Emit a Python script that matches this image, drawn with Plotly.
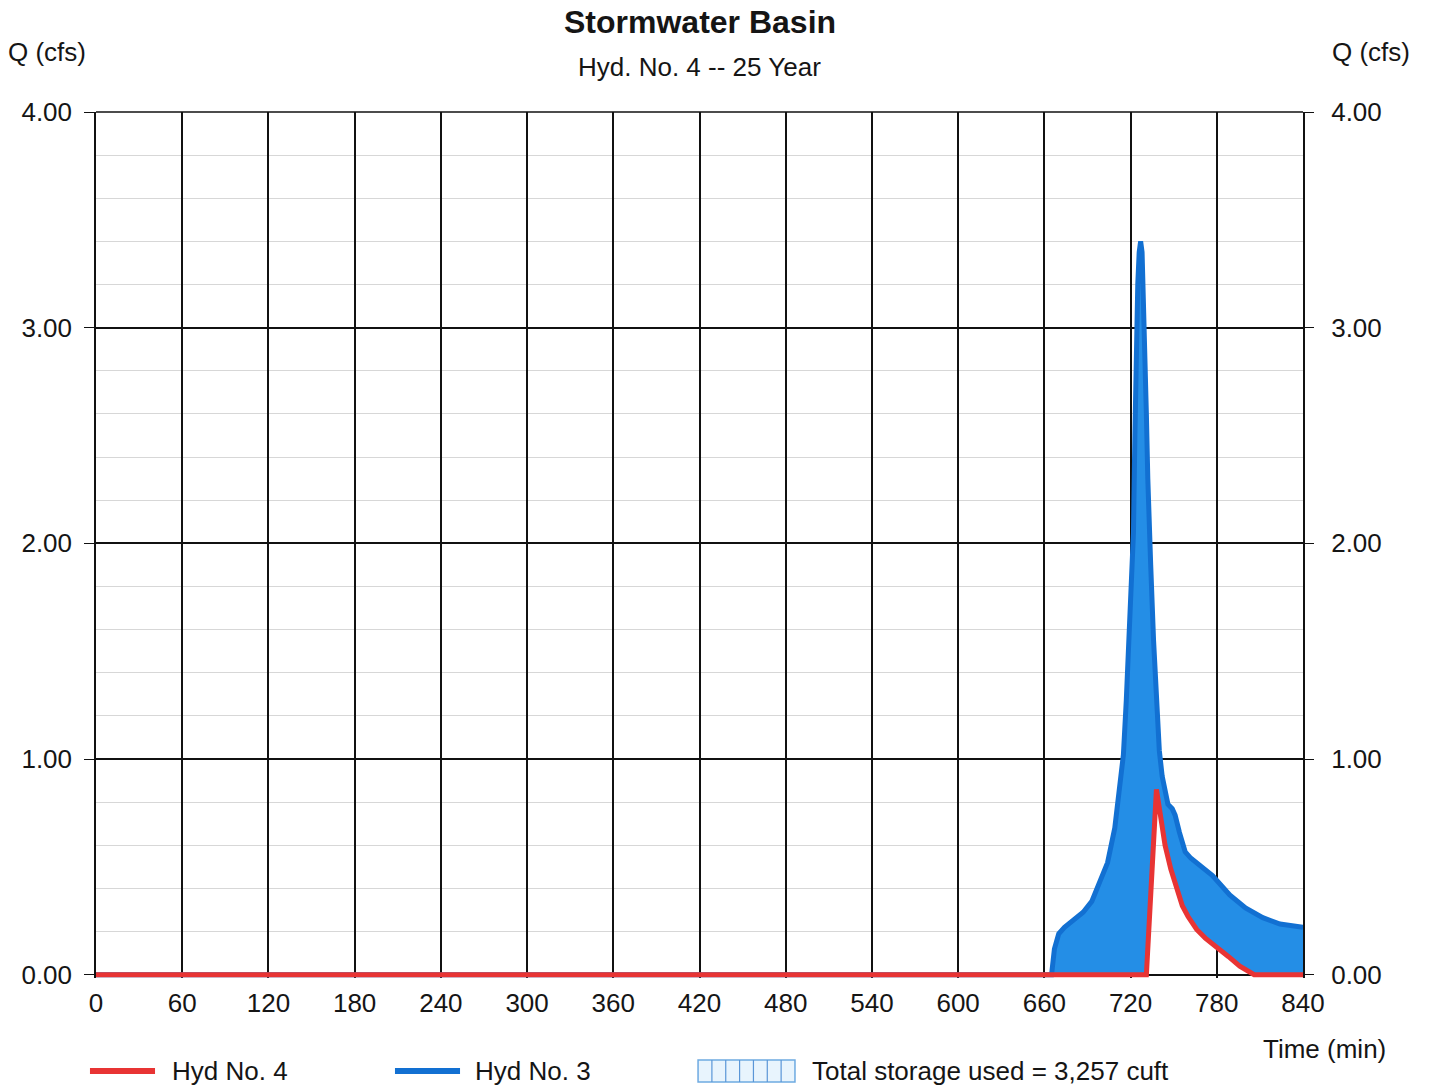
import plotly.graph_objects as go

# Hyd No. 3 (inflow) - time (min) and flow (cfs)
t_in = [0, 665, 667, 670, 674, 687, 693, 700, 704, 709, 715, 717, 719, 720, 722, 723, 724, 725, 726, 727,
        728, 729, 730, 731, 732, 733, 734, 736, 738, 740, 742, 746, 749, 751, 754, 758, 762, 770, 777,
        789, 800, 812, 824, 840]
q_in = [0, 0, 0.12, 0.19, 0.22, 0.29, 0.34, 0.46, 0.52, 0.68, 1.02, 1.27, 1.55, 1.7, 2.05, 2.5, 2.95, 3.2,
        3.35, 3.40, 3.35, 3.15, 2.85, 2.6, 2.3, 2.05, 1.9, 1.55, 1.27, 1.04, 0.92, 0.79, 0.77, 0.74, 0.66,
        0.57, 0.54, 0.5, 0.46, 0.37, 0.31, 0.265, 0.235, 0.22]

# Hyd No. 4 (outflow)
t_out = [0, 731, 738, 740, 744, 748, 752, 756, 760, 766, 772, 780, 788, 796, 806, 840]
q_out = [0, 0, 0.86, 0.78, 0.60, 0.49, 0.41, 0.32, 0.27, 0.21, 0.17, 0.13, 0.085, 0.04, 0.0, 0.0]

x_ticks = list(range(0, 841, 60))
y_ticks = [0, 1, 2, 3, 4]

title = "Stormwater Basin"
subtitle = "Hyd. No. 4 -- 25 Year"
storage_label = "Total storage used = 3,257 cuft"

RED = "rgb(232,52,52)"
BLUE_LINE = "rgb(18,112,210)"
BLUE_FILL = "rgb(36,142,230)"
FONT = "Liberation Sans, Arial, sans-serif"
TXT = "#151515"
FS = 26
YR = [-0.015, 4]

fig = go.Figure()
# base for fill
fig.add_trace(go.Scatter(x=t_out, y=q_out, mode="lines", line=dict(color=RED, width=0),
                         showlegend=False, hoverinfo="skip"))
fig.add_trace(go.Scatter(x=t_in, y=q_in, mode="lines", fill="tonexty", fillcolor=BLUE_FILL,
                         line=dict(color=BLUE_LINE, width=5), name="Hyd No. 3", showlegend=False))
fig.add_trace(go.Scatter(x=t_out, y=q_out, mode="lines", line=dict(color=RED, width=5),
                         name="Hyd No. 4", showlegend=False, yaxis="y2"))

fig.update_layout(
    width=1429, height=1087,
    margin=dict(l=96, r=126, t=112, b=109),
    paper_bgcolor="white", plot_bgcolor="white",
    font=dict(family=FONT, size=FS, color=TXT),
    xaxis=dict(range=[0, 840], tickvals=x_ticks, ticktext=[str(v) for v in x_ticks],
               showgrid=True, gridcolor="#111", gridwidth=1.5, zeroline=False,
               showline=False, ticks="", ticklabelstandoff=7,
               tickfont=dict(size=FS, family=FONT, color=TXT)),
    yaxis=dict(range=YR, tickvals=y_ticks, tickformat=".2f",
               showgrid=True, gridcolor="#111", gridwidth=1.5, zeroline=False,
               showline=True, mirror=True, linecolor="#111", linewidth=1.5,
               ticks="outside", ticklen=10, tickcolor="#111",
               ticklabelstandoff=7,
               minor=dict(dtick=0.2, tick0=0, showgrid=True, gridcolor="rgb(215,215,215)", gridwidth=1),
               tickfont=dict(size=FS, family=FONT, color=TXT)),
    yaxis2=dict(range=YR, tickvals=y_ticks, tickformat=".2f", overlaying="y", side="right",
                showgrid=False, zeroline=False, showline=False, ticks="outside", ticklen=10,
                tickcolor="#111", ticklabelstandoff=12,
                tickfont=dict(size=FS, family=FONT, color=TXT)),
    showlegend=False,
)

# top border of plot area
fig.add_shape(type="line", xref="paper", yref="paper", x0=0, x1=1, y0=1, y1=1,
              line=dict(color="#111", width=1.5))

def py(p):
    # pixel row -> paper y (plot area 112..978)
    return (978 - p) / 866.0

ann = [
    dict(text="<b>" + title + "</b>", x=0.5, y=py(22), size=32),
    dict(text=subtitle, x=0.5, y=py(67), size=FS),
    dict(text="Q (cfs)", x=-0.0406, y=py(52), size=FS),
    dict(text="Q (cfs)", x=1.0563, y=py(52), size=FS),
    dict(text="Time (min)", x=1.0182, y=py(1049), size=FS),
]
for a in ann:
    fig.add_annotation(text=a["text"], x=a["x"], y=a["y"], xref="paper", yref="paper",
                       showarrow=False, xanchor="center", yanchor="middle",
                       font=dict(size=a["size"], family=FONT, color=TXT))

# manual legend
ly = py(1071)
fig.add_shape(type="line", xref="paper", yref="paper", x0=-0.005, x1=0.0489, y0=ly, y1=ly,
              line=dict(color=RED, width=6))
fig.add_annotation(text="Hyd No. 4", x=0.0613, y=ly, xref="paper", yref="paper", showarrow=False,
                   xanchor="left", yanchor="middle", font=dict(size=FS, family=FONT, color=TXT))
fig.add_shape(type="line", xref="paper", yref="paper", x0=0.2477, x1=0.3016, y0=ly, y1=ly,
              line=dict(color=BLUE_LINE, width=6))
fig.add_annotation(text="Hyd No. 3", x=0.3123, y=ly, xref="paper", yref="paper", showarrow=False,
                   xanchor="left", yanchor="middle", font=dict(size=FS, family=FONT, color=TXT))
bx0, bx1, by0, by1 = 0.4988, 0.5791, py(1082), py(1060)
fig.add_shape(type="rect", xref="paper", yref="paper", x0=bx0, x1=bx1, y0=by0, y1=by1,
              line=dict(color="rgb(110,170,225)", width=1.5), fillcolor="rgba(232,244,253,1)")
n = 7
for i in range(1, n):
    xx = bx0 + (bx1 - bx0) * i / n
    fig.add_shape(type="line", xref="paper", yref="paper", x0=xx, x1=xx, y0=by0, y1=by1,
                  line=dict(color="rgb(90,150,215)", width=1.2))
fig.add_annotation(text=storage_label, x=0.5915, y=ly, xref="paper", yref="paper", showarrow=False,
                   xanchor="left", yanchor="middle", font=dict(size=FS, family=FONT, color=TXT))

fig.write_html("out.html")
